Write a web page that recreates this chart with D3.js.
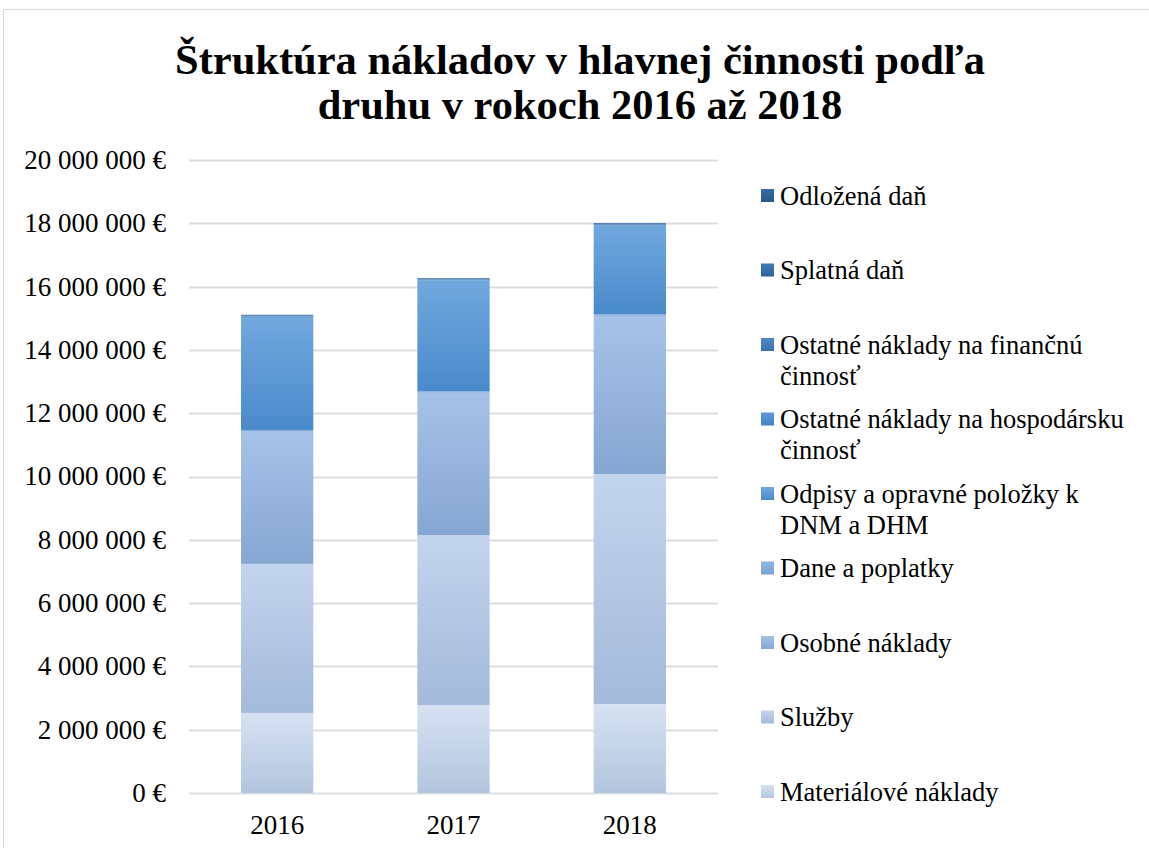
<!DOCTYPE html>
<html lang="sk">
<head>
    <meta charset="UTF-8">
    <title>Štruktúra nákladov</title>
    <script src="https://d3js.org/d3.v7.min.js"></script>
    <style>
        body {
            margin: 0;
            background-color: #fff;
        }
        svg text {
            font-family: "Liberation Serif", "Times New Roman", serif;
            fill: #000;
        }
    </style>
</head>
<body>
<div id="chart"></div>

<script>
    const roky = ["2016", "2017", "2018"];

    // od spodu po vrch
    const nazvy = [
        "Materiálové náklady",
        "Služby",
        "Osobné náklady",
        "Dane a poplatky",
        "Odpisy a opravné položky k DNM a DHM",
        "Ostatné náklady na hospodársku činnosť",
        "Ostatné náklady na finančnú činnosť",
        "Splatná daň",
        "Odložená daň"
    ];

    const materialove = [2530000, 2780000, 2810000];
    const sluzby = [4710000, 5370000, 7270000];
    const osobne = [4180000, 4500000, 5000000];
    const dane = [50000, 50000, 50000];
    const odpisy = [3570000, 3500000, 2800000];
    const ostatneHosp = [20000, 20000, 20000];
    const ostatneFin = [20000, 20000, 20000];
    const splatna = [20000, 20000, 30000];
    const odlozena = [10000, 10000, 10000];

    // zalomenie textu v legende
    const legendaRiadky = [
        ["Materiálové náklady"],
        ["Služby"],
        ["Osobné náklady"],
        ["Dane a poplatky"],
        ["Odpisy a opravné položky k", "DNM a DHM"],
        ["Ostatné náklady na hospodársku", "činnosť"],
        ["Ostatné náklady na finančnú", "činnosť"],
        ["Splatná daň"],
        ["Odložená daň"]
    ];

    const yTicks = [0, 2000000, 4000000, 6000000, 8000000, 10000000, 12000000, 14000000, 16000000, 18000000, 20000000];

    const farbySvetle = ["#d6e2f2", "#c3d4ed", "#a6c2e8", "#8fb5e2", "#71a8de", "#5f9ad8", "#4f88c6", "#4077b5", "#356ca4"];
    const farbyTmave = ["#b3c5de", "#a4bada", "#86a6d2", "#7aa2d4", "#4a8acb", "#4480c2", "#3b72b0", "#30639c", "#2a5888"];

    const hodnoty = [materialove, sluzby, osobne, dane, odpisy, ostatneHosp, ostatneFin, splatna, odlozena];

    const width = 1149;
    const height = 848;
    const margin = { top: 160, left: 189, right: 431, bottom: 55 };

    const svg = d3.select("#chart")
        .append("svg")
        .attr("width", width)
        .attr("height", height);

    // ramik grafu
    svg.append("rect")
        .attr("x", 3.5)
        .attr("y", 9.5)
        .attr("width", 1300)
        .attr("height", 1000)
        .attr("fill", "none")
        .attr("stroke", "#d9d9d9")
        .attr("stroke-width", 1);

    const defs = svg.append("defs");
    nazvy.forEach((n, i) => {
        const g = defs.append("linearGradient")
            .attr("id", "grad" + i)
            .attr("x1", 0).attr("y1", 0)
            .attr("x2", 0).attr("y2", 1);
        g.append("stop").attr("offset", "0%").attr("stop-color", farbySvetle[i]);
        g.append("stop").attr("offset", "100%").attr("stop-color", farbyTmave[i]);
    });

    // nadpis
    const nadpis = svg.append("text")
        .attr("text-anchor", "middle")
        .attr("font-weight", "bold")
        .attr("font-size", "42.5px");
    nadpis.append("tspan").attr("x", 580).attr("y", 74).text("Štruktúra nákladov v hlavnej činnosti podľa");
    nadpis.append("tspan").attr("x", 580).attr("y", 119).text("druhu v rokoch 2016 až 2018");

    const x = d3.scaleBand()
        .domain(roky)
        .range([margin.left, width - margin.right])
        .paddingInner(0.59)
        .paddingOuter(0.295);

    const y = d3.scaleLinear()
        .domain([0, 20000000])
        .range([height - margin.bottom, margin.top]);

    const format = v => d3.format(",")(v).replace(/,/g, " ") + " €";

    // mriezka
    svg.append("g")
        .selectAll("line")
        .data(yTicks)
        .enter()
        .append("line")
        .attr("x1", margin.left)
        .attr("x2", width - margin.right)
        .attr("y1", d => Math.round(y(d)) + 0.5)
        .attr("y2", d => Math.round(y(d)) + 0.5)
        .attr("stroke", "#dcdde3")
        .attr("stroke-width", 2);

    // popisy osi y
    svg.append("g")
        .selectAll("text")
        .data(yTicks)
        .enter()
        .append("text")
        .attr("x", 166)
        .attr("y", d => y(d))
        .attr("dy", "0.33em")
        .attr("text-anchor", "end")
        .attr("font-size", "27px")
        .text(d => format(d));

    // popisy osi x
    svg.append("g")
        .selectAll("text")
        .data(roky)
        .enter()
        .append("text")
        .attr("x", d => x(d) + x.bandwidth() / 2)
        .attr("y", 834)
        .attr("text-anchor", "middle")
        .attr("font-size", "27px")
        .text(d => d);

    // stlpce
    const stack = d3.stack()
        .keys(d3.range(nazvy.length))
        .value((d, k) => hodnoty[k][d]);
    const serie = stack(d3.range(roky.length));

    svg.append("g")
        .selectAll("g")
        .data(serie)
        .enter()
        .append("g")
        .attr("fill", (d, i) => `url(#grad${i})`)
        .selectAll("rect")
        .data(d => d)
        .enter()
        .append("rect")
        .attr("x", (d, j) => x(roky[j]))
        .attr("y", d => y(d[1]))
        .attr("width", x.bandwidth())
        .attr("height", d => y(d[0]) - y(d[1]));

    // legenda (zhora nadol v opacnom poradi)
    const legenda = svg.append("g");
    const poradie = d3.range(nazvy.length).reverse();
    poradie.forEach((i, k) => {
        const ly = 196 + k * 74.5;
        legenda.append("rect")
            .attr("x", 761)
            .attr("y", ly - 7)
            .attr("width", 13)
            .attr("height", 13)
            .attr("fill", `url(#grad${i})`);
        const t = legenda.append("text")
            .attr("font-size", "26.5px");
        legendaRiadky[i].forEach((r, ri) => {
            t.append("tspan")
                .attr("x", 780)
                .attr("y", ly + ri * 31)
                .attr("dy", "0.33em")
                .text(r);
        });
    });
</script>
</body>
</html>
